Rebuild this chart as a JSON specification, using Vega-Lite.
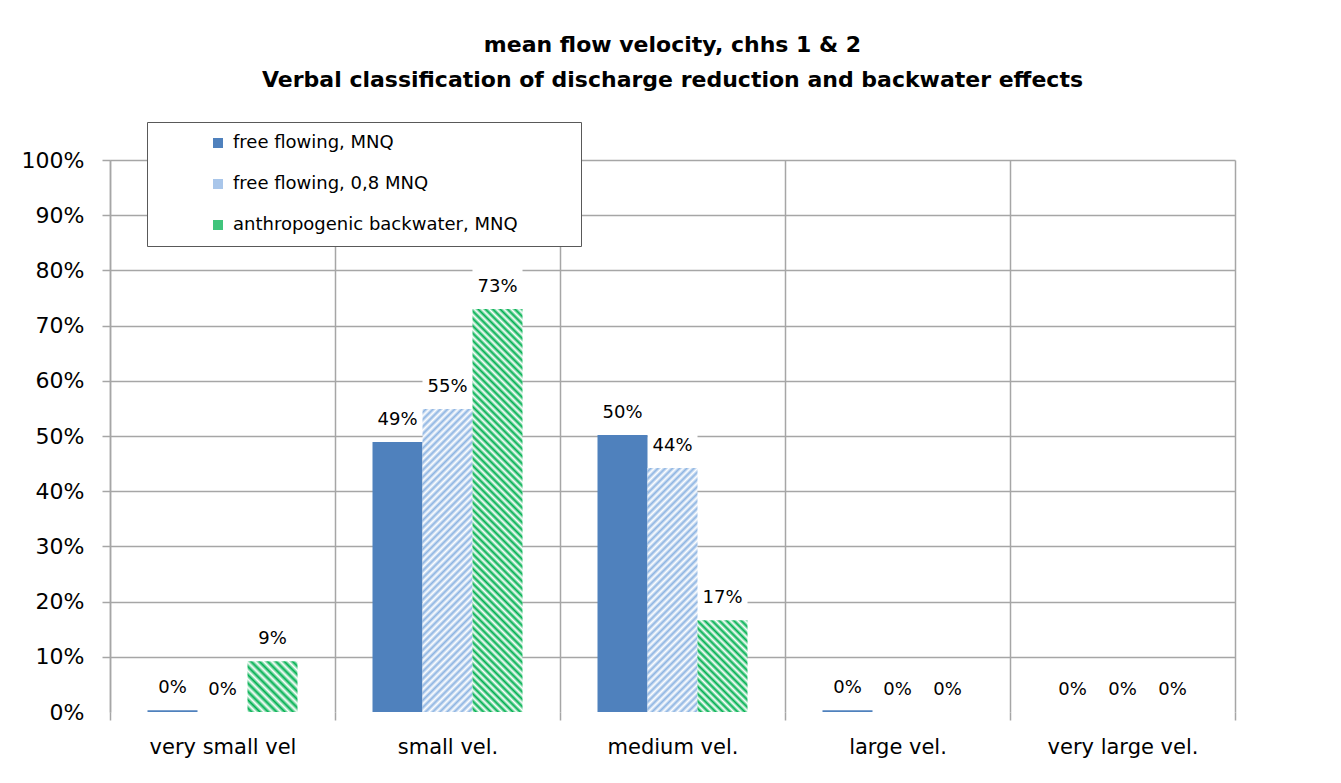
{
  "$schema": "https://vega.github.io/schema/vega-lite/v6.json",
  "autosize": {"type": "none"},
  "padding": {"left": 110, "top": 160, "right": 106, "bottom": 71},
  "width": 1125,
  "height": 552,
  "background": "#ffffff",
  "config": {"view": {"stroke": null}},
  "title": {
    "text": ["mean flow velocity, chhs 1 & 2", "Verbal classification of discharge reduction and backwater effects"],
    "font": "DejaVu Sans", "fontSize": 22, "fontWeight": "bold", "color": "#000000",
    "lineHeight": 35, "offset": 30, "anchor": "middle", "frame": "group"
  },
  "data": {"values": [
    {"cat": "very small vel", "series": "free flowing, MNQ", "value": 0.003},
    {"cat": "very small vel", "series": "free flowing, 0,8 MNQ", "value": 0},
    {"cat": "very small vel", "series": "anthropogenic backwater, MNQ", "value": 0.092},
    {"cat": "small vel.", "series": "free flowing, MNQ", "value": 0.489},
    {"cat": "small vel.", "series": "free flowing, 0,8 MNQ", "value": 0.549},
    {"cat": "small vel.", "series": "anthropogenic backwater, MNQ", "value": 0.73},
    {"cat": "medium vel.", "series": "free flowing, MNQ", "value": 0.502},
    {"cat": "medium vel.", "series": "free flowing, 0,8 MNQ", "value": 0.442},
    {"cat": "medium vel.", "series": "anthropogenic backwater, MNQ", "value": 0.166},
    {"cat": "large vel.", "series": "free flowing, MNQ", "value": 0.003},
    {"cat": "large vel.", "series": "free flowing, 0,8 MNQ", "value": 0},
    {"cat": "large vel.", "series": "anthropogenic backwater, MNQ", "value": 0},
    {"cat": "very large vel.", "series": "free flowing, MNQ", "value": 0},
    {"cat": "very large vel.", "series": "free flowing, 0,8 MNQ", "value": 0},
    {"cat": "very large vel.", "series": "anthropogenic backwater, MNQ", "value": 0}
  ]},
  "encoding": {
    "x": {
      "field": "cat", "type": "nominal",
      "sort": ["very small vel", "small vel.", "medium vel.", "large vel.", "very large vel."],
      "scale": {"paddingInner": 0, "paddingOuter": 0},
      "axis": {
        "title": null, "labelAngle": 0, "labelFont": "DejaVu Sans", "labelFontSize": 21, "labelColor": "#000000",
        "labelPadding": 16, "tickBand": "extent", "tickSize": 8, "tickColor": "#a6a6a6", "tickWidth": 1.5,
        "grid": true, "gridColor": "#a6a6a6", "gridWidth": 1.5, "domain": false
      }
    },
    "xOffset": {
      "field": "series", "type": "nominal",
      "sort": ["free flowing, MNQ", "free flowing, 0,8 MNQ", "anthropogenic backwater, MNQ"],
      "scale": {"domain": ["free flowing, MNQ", "free flowing, 0,8 MNQ", "anthropogenic backwater, MNQ"], "paddingInner": 0, "paddingOuter": 0.75}
    },
    "y": {
      "field": "value", "type": "quantitative",
      "scale": {"domain": [0, 1], "nice": false, "zero": true},
      "axis": {
        "title": null, "format": ".0%", "values": [0, 0.1, 0.2, 0.3, 0.4, 0.5, 0.6, 0.7, 0.8, 0.9, 1],
        "labelFont": "DejaVu Sans", "labelFontSize": 22, "labelColor": "#000000", "labelPadding": 18,
        "tickSize": 8, "tickColor": "#a6a6a6", "tickWidth": 1.5,
        "tickOpacity": {"condition": {"test": "datum.value === 0", "value": 0}, "value": 1},
        "grid": true, "gridColor": "#a6a6a6", "gridWidth": 1.5,
        "gridOpacity": {"condition": {"test": "datum.value === 0", "value": 0}, "value": 1},
        "domain": true, "domainColor": "#a6a6a6", "domainWidth": 1.5
      }
    }
  },
  "layer": [
    {
      "mark": {"type": "bar", "fill": "#ffffff", "yOffset": -41, "y2Offset": -8},
      "encoding": {"y2": {"field": "value"}}
    },
    {
      "transform": [{"filter": "datum.series === 'free flowing, MNQ'"}],
      "mark": {"type": "bar"},
      "encoding": {
        "color": {
          "field": "series", "type": "nominal",
          "scale": {"domain": ["free flowing, MNQ", "free flowing, 0,8 MNQ", "anthropogenic backwater, MNQ"], "range": ["#4f81bd", "#a9c6ea", "#40c47c"]},
          "legend": {
            "title": "\u00a0", "titleOrient": "right", "titlePadding": 51, "titleFontSize": 1,
            "orient": "none", "legendX": 37, "legendY": -38, "padding": 12, "rowPadding": 23,
            "symbolOffset": 50, "labelOffset": 6, "symbolType": "square", "symbolSize": 100, "symbolStrokeWidth": 0,
            "labelFont": "DejaVu Sans", "labelFontSize": 18, "labelColor": "#000000", "labelLimit": 400,
            "strokeColor": "#595959", "fillColor": "#ffffff", "zindex": 1
          }
        }
      }
    },
    {
      "transform": [{"filter": "datum.cat === 'small vel.' && datum.series === 'free flowing, 0,8 MNQ'"}],
      "mark": {"type": "bar", "fill": {"gradient": "linear", "x1": 0, "y1": 0, "x2": 0.1908, "y2": 1.1564, "stops": [
        {"offset":0,"color":"#fff"},{"offset":0.01,"color":"#8db4e2"},{"offset":0.02,"color":"#fff"},{"offset":0.03,"color":"#8db4e2"},{"offset":0.04,"color":"#fff"},{"offset":0.05,"color":"#8db4e2"},{"offset":0.06,"color":"#fff"},{"offset":0.07,"color":"#8db4e2"},{"offset":0.08,"color":"#fff"},{"offset":0.09,"color":"#8db4e2"},
        {"offset":0.1,"color":"#fff"},{"offset":0.11,"color":"#8db4e2"},{"offset":0.12,"color":"#fff"},{"offset":0.13,"color":"#8db4e2"},{"offset":0.14,"color":"#fff"},{"offset":0.15,"color":"#8db4e2"},{"offset":0.16,"color":"#fff"},{"offset":0.17,"color":"#8db4e2"},{"offset":0.18,"color":"#fff"},{"offset":0.19,"color":"#8db4e2"},
        {"offset":0.2,"color":"#fff"},{"offset":0.21,"color":"#8db4e2"},{"offset":0.22,"color":"#fff"},{"offset":0.23,"color":"#8db4e2"},{"offset":0.24,"color":"#fff"},{"offset":0.25,"color":"#8db4e2"},{"offset":0.26,"color":"#fff"},{"offset":0.27,"color":"#8db4e2"},{"offset":0.28,"color":"#fff"},{"offset":0.29,"color":"#8db4e2"},
        {"offset":0.3,"color":"#fff"},{"offset":0.31,"color":"#8db4e2"},{"offset":0.32,"color":"#fff"},{"offset":0.33,"color":"#8db4e2"},{"offset":0.34,"color":"#fff"},{"offset":0.35,"color":"#8db4e2"},{"offset":0.36,"color":"#fff"},{"offset":0.37,"color":"#8db4e2"},{"offset":0.38,"color":"#fff"},{"offset":0.39,"color":"#8db4e2"},
        {"offset":0.4,"color":"#fff"},{"offset":0.41,"color":"#8db4e2"},{"offset":0.42,"color":"#fff"},{"offset":0.43,"color":"#8db4e2"},{"offset":0.44,"color":"#fff"},{"offset":0.45,"color":"#8db4e2"},{"offset":0.46,"color":"#fff"},{"offset":0.47,"color":"#8db4e2"},{"offset":0.48,"color":"#fff"},{"offset":0.49,"color":"#8db4e2"},
        {"offset":0.5,"color":"#fff"},{"offset":0.51,"color":"#8db4e2"},{"offset":0.52,"color":"#fff"},{"offset":0.53,"color":"#8db4e2"},{"offset":0.54,"color":"#fff"},{"offset":0.55,"color":"#8db4e2"},{"offset":0.56,"color":"#fff"},{"offset":0.57,"color":"#8db4e2"},{"offset":0.58,"color":"#fff"},{"offset":0.59,"color":"#8db4e2"},
        {"offset":0.6,"color":"#fff"},{"offset":0.61,"color":"#8db4e2"},{"offset":0.62,"color":"#fff"},{"offset":0.63,"color":"#8db4e2"},{"offset":0.64,"color":"#fff"},{"offset":0.65,"color":"#8db4e2"},{"offset":0.66,"color":"#fff"},{"offset":0.67,"color":"#8db4e2"},{"offset":0.68,"color":"#fff"},{"offset":0.69,"color":"#8db4e2"},
        {"offset":0.7,"color":"#fff"},{"offset":0.71,"color":"#8db4e2"},{"offset":0.72,"color":"#fff"},{"offset":0.73,"color":"#8db4e2"},{"offset":0.74,"color":"#fff"},{"offset":0.75,"color":"#8db4e2"},{"offset":0.76,"color":"#fff"},{"offset":0.77,"color":"#8db4e2"},{"offset":0.78,"color":"#fff"},{"offset":0.79,"color":"#8db4e2"},
        {"offset":0.8,"color":"#fff"},{"offset":0.81,"color":"#8db4e2"},{"offset":0.82,"color":"#fff"},{"offset":0.83,"color":"#8db4e2"},{"offset":0.84,"color":"#fff"},{"offset":0.85,"color":"#8db4e2"},{"offset":0.86,"color":"#fff"},{"offset":0.87,"color":"#8db4e2"},{"offset":0.88,"color":"#fff"},{"offset":0.89,"color":"#8db4e2"},
        {"offset":0.9,"color":"#fff"},{"offset":0.91,"color":"#8db4e2"},{"offset":0.92,"color":"#fff"},{"offset":0.93,"color":"#8db4e2"},{"offset":0.94,"color":"#fff"},{"offset":0.95,"color":"#8db4e2"},{"offset":0.96,"color":"#fff"},{"offset":0.97,"color":"#8db4e2"},{"offset":0.98,"color":"#fff"},{"offset":0.99,"color":"#8db4e2"},
        {"offset":1,"color":"#fff"}
      ]}}
    },
    {
      "transform": [{"filter": "datum.cat === 'medium vel.' && datum.series === 'free flowing, 0,8 MNQ'"}],
      "mark": {"type": "bar", "fill": {"gradient": "linear", "x1": 0, "y1": 0, "x2": 0.2902, "y2": 1.416, "stops": [
        {"offset":0,"color":"#fff"},{"offset":0.01,"color":"#8db4e2"},{"offset":0.02,"color":"#fff"},{"offset":0.03,"color":"#8db4e2"},{"offset":0.04,"color":"#fff"},{"offset":0.05,"color":"#8db4e2"},{"offset":0.06,"color":"#fff"},{"offset":0.07,"color":"#8db4e2"},{"offset":0.08,"color":"#fff"},{"offset":0.09,"color":"#8db4e2"},
        {"offset":0.1,"color":"#fff"},{"offset":0.11,"color":"#8db4e2"},{"offset":0.12,"color":"#fff"},{"offset":0.13,"color":"#8db4e2"},{"offset":0.14,"color":"#fff"},{"offset":0.15,"color":"#8db4e2"},{"offset":0.16,"color":"#fff"},{"offset":0.17,"color":"#8db4e2"},{"offset":0.18,"color":"#fff"},{"offset":0.19,"color":"#8db4e2"},
        {"offset":0.2,"color":"#fff"},{"offset":0.21,"color":"#8db4e2"},{"offset":0.22,"color":"#fff"},{"offset":0.23,"color":"#8db4e2"},{"offset":0.24,"color":"#fff"},{"offset":0.25,"color":"#8db4e2"},{"offset":0.26,"color":"#fff"},{"offset":0.27,"color":"#8db4e2"},{"offset":0.28,"color":"#fff"},{"offset":0.29,"color":"#8db4e2"},
        {"offset":0.3,"color":"#fff"},{"offset":0.31,"color":"#8db4e2"},{"offset":0.32,"color":"#fff"},{"offset":0.33,"color":"#8db4e2"},{"offset":0.34,"color":"#fff"},{"offset":0.35,"color":"#8db4e2"},{"offset":0.36,"color":"#fff"},{"offset":0.37,"color":"#8db4e2"},{"offset":0.38,"color":"#fff"},{"offset":0.39,"color":"#8db4e2"},
        {"offset":0.4,"color":"#fff"},{"offset":0.41,"color":"#8db4e2"},{"offset":0.42,"color":"#fff"},{"offset":0.43,"color":"#8db4e2"},{"offset":0.44,"color":"#fff"},{"offset":0.45,"color":"#8db4e2"},{"offset":0.46,"color":"#fff"},{"offset":0.47,"color":"#8db4e2"},{"offset":0.48,"color":"#fff"},{"offset":0.49,"color":"#8db4e2"},
        {"offset":0.5,"color":"#fff"},{"offset":0.51,"color":"#8db4e2"},{"offset":0.52,"color":"#fff"},{"offset":0.53,"color":"#8db4e2"},{"offset":0.54,"color":"#fff"},{"offset":0.55,"color":"#8db4e2"},{"offset":0.56,"color":"#fff"},{"offset":0.57,"color":"#8db4e2"},{"offset":0.58,"color":"#fff"},{"offset":0.59,"color":"#8db4e2"},
        {"offset":0.6,"color":"#fff"},{"offset":0.61,"color":"#8db4e2"},{"offset":0.62,"color":"#fff"},{"offset":0.63,"color":"#8db4e2"},{"offset":0.64,"color":"#fff"},{"offset":0.65,"color":"#8db4e2"},{"offset":0.66,"color":"#fff"},{"offset":0.67,"color":"#8db4e2"},{"offset":0.68,"color":"#fff"},{"offset":0.69,"color":"#8db4e2"},
        {"offset":0.7,"color":"#fff"},{"offset":0.71,"color":"#8db4e2"},{"offset":0.72,"color":"#fff"},{"offset":0.73,"color":"#8db4e2"},{"offset":0.74,"color":"#fff"},{"offset":0.75,"color":"#8db4e2"},{"offset":0.76,"color":"#fff"},{"offset":0.77,"color":"#8db4e2"},{"offset":0.78,"color":"#fff"},{"offset":0.79,"color":"#8db4e2"},
        {"offset":0.8,"color":"#fff"},{"offset":0.81,"color":"#8db4e2"},{"offset":0.82,"color":"#fff"},{"offset":0.83,"color":"#8db4e2"},{"offset":0.84,"color":"#fff"},{"offset":0.85,"color":"#8db4e2"},{"offset":0.86,"color":"#fff"},{"offset":0.87,"color":"#8db4e2"},{"offset":0.88,"color":"#fff"},{"offset":0.89,"color":"#8db4e2"},
        {"offset":0.9,"color":"#fff"},{"offset":0.91,"color":"#8db4e2"},{"offset":0.92,"color":"#fff"},{"offset":0.93,"color":"#8db4e2"},{"offset":0.94,"color":"#fff"},{"offset":0.95,"color":"#8db4e2"},{"offset":0.96,"color":"#fff"},{"offset":0.97,"color":"#8db4e2"},{"offset":0.98,"color":"#fff"},{"offset":0.99,"color":"#8db4e2"},
        {"offset":1,"color":"#fff"}
      ]}}
    },
    {
      "transform": [{"filter": "datum.cat === 'very small vel' && datum.series === 'anthropogenic backwater, MNQ'"}],
      "mark": {"type": "bar", "fill": {"gradient": "linear", "x1": 0, "y1": 1, "x2": 1.0238, "y2": -0.0399, "stops": [
        {"offset":0,"color":"#fff"},{"offset":0.04,"color":"#00b050"},{"offset":0.08,"color":"#fff"},{"offset":0.12,"color":"#00b050"},{"offset":0.16,"color":"#fff"},{"offset":0.2,"color":"#00b050"},{"offset":0.24,"color":"#fff"},{"offset":0.28,"color":"#00b050"},{"offset":0.32,"color":"#fff"},{"offset":0.36,"color":"#00b050"},
        {"offset":0.4,"color":"#fff"},{"offset":0.44,"color":"#00b050"},{"offset":0.48,"color":"#fff"},{"offset":0.52,"color":"#00b050"},{"offset":0.56,"color":"#fff"},{"offset":0.6,"color":"#00b050"},{"offset":0.64,"color":"#fff"},{"offset":0.68,"color":"#00b050"},{"offset":0.72,"color":"#fff"},{"offset":0.76,"color":"#00b050"},
        {"offset":0.8,"color":"#fff"},{"offset":0.84,"color":"#00b050"},{"offset":0.88,"color":"#fff"},{"offset":0.92,"color":"#00b050"},{"offset":0.96,"color":"#fff"},{"offset":1,"color":"#00b050"}
      ]}}
    },
    {
      "transform": [{"filter": "datum.cat === 'medium vel.' && datum.series === 'anthropogenic backwater, MNQ'"}],
      "mark": {"type": "bar", "fill": {"gradient": "linear", "x1": 0, "y1": 1, "x2": 0.67, "y2": -0.2278, "stops": [
        {"offset":0,"color":"#fff"},{"offset":0.025,"color":"#00b050"},{"offset":0.05,"color":"#fff"},{"offset":0.075,"color":"#00b050"},{"offset":0.1,"color":"#fff"},{"offset":0.125,"color":"#00b050"},{"offset":0.15,"color":"#fff"},{"offset":0.175,"color":"#00b050"},
        {"offset":0.2,"color":"#fff"},{"offset":0.225,"color":"#00b050"},{"offset":0.25,"color":"#fff"},{"offset":0.275,"color":"#00b050"},{"offset":0.3,"color":"#fff"},{"offset":0.325,"color":"#00b050"},{"offset":0.35,"color":"#fff"},{"offset":0.375,"color":"#00b050"},
        {"offset":0.4,"color":"#fff"},{"offset":0.425,"color":"#00b050"},{"offset":0.45,"color":"#fff"},{"offset":0.475,"color":"#00b050"},{"offset":0.5,"color":"#fff"},{"offset":0.525,"color":"#00b050"},{"offset":0.55,"color":"#fff"},{"offset":0.575,"color":"#00b050"},
        {"offset":0.6,"color":"#fff"},{"offset":0.625,"color":"#00b050"},{"offset":0.65,"color":"#fff"},{"offset":0.675,"color":"#00b050"},{"offset":0.7,"color":"#fff"},{"offset":0.725,"color":"#00b050"},{"offset":0.75,"color":"#fff"},{"offset":0.775,"color":"#00b050"},
        {"offset":0.8,"color":"#fff"},{"offset":0.825,"color":"#00b050"},{"offset":0.85,"color":"#fff"},{"offset":0.875,"color":"#00b050"},{"offset":0.9,"color":"#fff"},{"offset":0.925,"color":"#00b050"},{"offset":0.95,"color":"#fff"},{"offset":0.975,"color":"#00b050"},
        {"offset":1,"color":"#fff"}
      ]}}
    },
    {
      "transform": [{"filter": "datum.cat === 'small vel.' && datum.series === 'anthropogenic backwater, MNQ'"}],
      "mark": {"type": "bar", "fill": {"gradient": "linear", "x1": 0, "y1": 1, "x2": 0.1395, "y2": -0.1242, "stops": [
        {"offset":0,"color":"#fff"},{"offset":0.008,"color":"#00b050"},{"offset":0.016,"color":"#fff"},{"offset":0.024,"color":"#00b050"},{"offset":0.032,"color":"#fff"},{"offset":0.04,"color":"#00b050"},{"offset":0.048,"color":"#fff"},{"offset":0.056,"color":"#00b050"},{"offset":0.064,"color":"#fff"},{"offset":0.072,"color":"#00b050"},
        {"offset":0.08,"color":"#fff"},{"offset":0.088,"color":"#00b050"},{"offset":0.096,"color":"#fff"},{"offset":0.104,"color":"#00b050"},{"offset":0.112,"color":"#fff"},{"offset":0.12,"color":"#00b050"},{"offset":0.128,"color":"#fff"},{"offset":0.136,"color":"#00b050"},{"offset":0.144,"color":"#fff"},{"offset":0.152,"color":"#00b050"},
        {"offset":0.16,"color":"#fff"},{"offset":0.168,"color":"#00b050"},{"offset":0.176,"color":"#fff"},{"offset":0.184,"color":"#00b050"},{"offset":0.192,"color":"#fff"},{"offset":0.2,"color":"#00b050"},{"offset":0.208,"color":"#fff"},{"offset":0.216,"color":"#00b050"},{"offset":0.224,"color":"#fff"},{"offset":0.232,"color":"#00b050"},
        {"offset":0.24,"color":"#fff"},{"offset":0.248,"color":"#00b050"},{"offset":0.256,"color":"#fff"},{"offset":0.264,"color":"#00b050"},{"offset":0.272,"color":"#fff"},{"offset":0.28,"color":"#00b050"},{"offset":0.288,"color":"#fff"},{"offset":0.296,"color":"#00b050"},{"offset":0.304,"color":"#fff"},{"offset":0.312,"color":"#00b050"},
        {"offset":0.32,"color":"#fff"},{"offset":0.328,"color":"#00b050"},{"offset":0.336,"color":"#fff"},{"offset":0.344,"color":"#00b050"},{"offset":0.352,"color":"#fff"},{"offset":0.36,"color":"#00b050"},{"offset":0.368,"color":"#fff"},{"offset":0.376,"color":"#00b050"},{"offset":0.384,"color":"#fff"},{"offset":0.392,"color":"#00b050"},
        {"offset":0.4,"color":"#fff"},{"offset":0.408,"color":"#00b050"},{"offset":0.416,"color":"#fff"},{"offset":0.424,"color":"#00b050"},{"offset":0.432,"color":"#fff"},{"offset":0.44,"color":"#00b050"},{"offset":0.448,"color":"#fff"},{"offset":0.456,"color":"#00b050"},{"offset":0.464,"color":"#fff"},{"offset":0.472,"color":"#00b050"},
        {"offset":0.48,"color":"#fff"},{"offset":0.488,"color":"#00b050"},{"offset":0.496,"color":"#fff"},{"offset":0.504,"color":"#00b050"},{"offset":0.512,"color":"#fff"},{"offset":0.52,"color":"#00b050"},{"offset":0.528,"color":"#fff"},{"offset":0.536,"color":"#00b050"},{"offset":0.544,"color":"#fff"},{"offset":0.552,"color":"#00b050"},
        {"offset":0.56,"color":"#fff"},{"offset":0.568,"color":"#00b050"},{"offset":0.576,"color":"#fff"},{"offset":0.584,"color":"#00b050"},{"offset":0.592,"color":"#fff"},{"offset":0.6,"color":"#00b050"},{"offset":0.608,"color":"#fff"},{"offset":0.616,"color":"#00b050"},{"offset":0.624,"color":"#fff"},{"offset":0.632,"color":"#00b050"},
        {"offset":0.64,"color":"#fff"},{"offset":0.648,"color":"#00b050"},{"offset":0.656,"color":"#fff"},{"offset":0.664,"color":"#00b050"},{"offset":0.672,"color":"#fff"},{"offset":0.68,"color":"#00b050"},{"offset":0.688,"color":"#fff"},{"offset":0.696,"color":"#00b050"},{"offset":0.704,"color":"#fff"},{"offset":0.712,"color":"#00b050"},
        {"offset":0.72,"color":"#fff"},{"offset":0.728,"color":"#00b050"},{"offset":0.736,"color":"#fff"},{"offset":0.744,"color":"#00b050"},{"offset":0.752,"color":"#fff"},{"offset":0.76,"color":"#00b050"},{"offset":0.768,"color":"#fff"},{"offset":0.776,"color":"#00b050"},{"offset":0.784,"color":"#fff"},{"offset":0.792,"color":"#00b050"},
        {"offset":0.8,"color":"#fff"},{"offset":0.808,"color":"#00b050"},{"offset":0.816,"color":"#fff"},{"offset":0.824,"color":"#00b050"},{"offset":0.832,"color":"#fff"},{"offset":0.84,"color":"#00b050"},{"offset":0.848,"color":"#fff"},{"offset":0.856,"color":"#00b050"},{"offset":0.864,"color":"#fff"},{"offset":0.872,"color":"#00b050"},
        {"offset":0.88,"color":"#fff"},{"offset":0.888,"color":"#00b050"},{"offset":0.896,"color":"#fff"},{"offset":0.904,"color":"#00b050"},{"offset":0.912,"color":"#fff"},{"offset":0.92,"color":"#00b050"},{"offset":0.928,"color":"#fff"},{"offset":0.936,"color":"#00b050"},{"offset":0.944,"color":"#fff"},{"offset":0.952,"color":"#00b050"},
        {"offset":0.96,"color":"#fff"},{"offset":0.968,"color":"#00b050"},{"offset":0.976,"color":"#fff"},{"offset":0.984,"color":"#00b050"},{"offset":0.992,"color":"#fff"},{"offset":1,"color":"#00b050"}
      ]}}
    },
    {
      "mark": {"type": "text", "baseline": "middle", "dy": -22, "font": "DejaVu Sans", "fontSize": 18, "color": "#000000"},
      "encoding": {"text": {"field": "value", "type": "quantitative", "format": ".0%"}}
    }
  ]
}
